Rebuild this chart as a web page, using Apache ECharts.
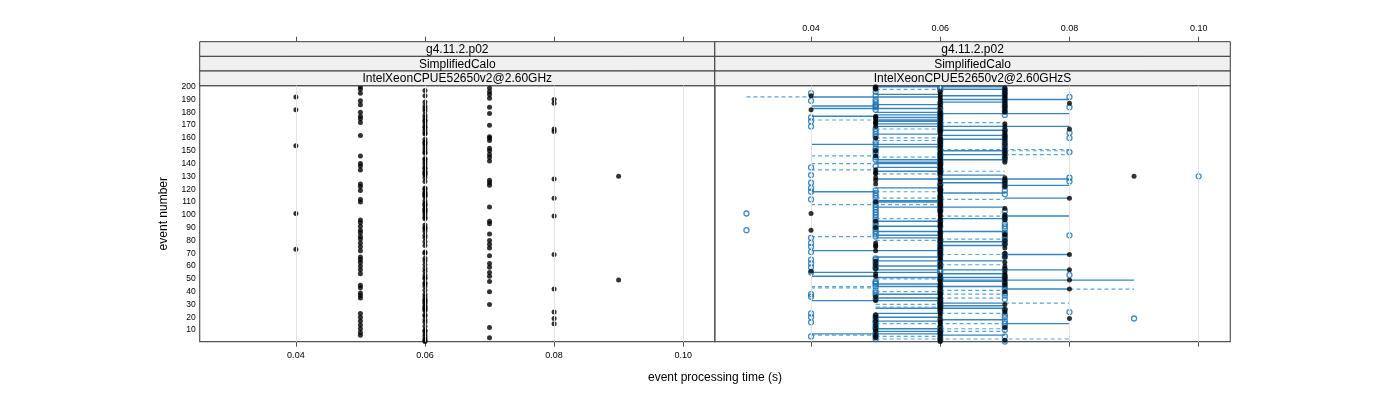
<!DOCTYPE html>
<html><head><meta charset="utf-8">
<script src="https://cdn.jsdelivr.net/npm/echarts@6/dist/echarts.min.js"></script>
<style>html,body{margin:0;padding:0;background:#fff}#c{width:1400px;height:400px}</style>
</head><body><div id="c"></div>
<script>
// ---------- data ----------
const stripLevels = ['g4.11.2.p02', 'SimplifiedCalo'];
const panelNames = ['IntelXeonCPUE52650v2@2.60GHz', 'IntelXeonCPUE52650v2@2.60GHzS'];
const xTicks = [0.04, 0.06, 0.08, 0.10];
const yTicks = [10, 20, 30, 40, 50, 60, 70, 80, 90, 100, 110, 120, 130, 140, 150, 160, 170, 180, 190, 200];
const xTitle = 'event processing time (s)';
const yTitle = 'event number';

// left panel: processing time per event (events 1..200)
const leftTime = [
  .06,.06,.06,.07,.06,.05,.06,.05,.06,.06,
  .05,.07,.06,.05,.08,.06,.05,.06,.08,.05,
  .06,.06,.05,.08,.06,.06,.06,.06,.06,.07,
  .06,.06,.06,.06,.05,.06,.05,.06,.05,.07,
  .06,.08,.05,.06,.05,.06,.06,.07,.09,.06,
  .06,.07,.06,.05,.07,.06,.05,.06,.07,.05,
  .06,.07,.05,.06,.05,.06,.05,.07,.08,.06,
  .06,.05,.04,.07,.05,.06,.07,.05,.06,.07,
  .05,.06,.05,.06,.07,.05,.06,.05,.06,.06,
  .05,.06,.07,.05,.07,.05,.06,.06,.08,.06,
  .04,.06,.06,.06,.06,.07,.06,.06,.06,.05,
  .06,.05,.08,.06,.06,.06,.06,.06,.05,.06,
  .06,.05,.07,.05,.07,.06,.07,.08,.06,.09,
  .06,.06,.06,.06,.05,.06,.06,.05,.06,.05,
  .06,.07,.06,.06,.07,.05,.07,.06,.06,.07,
  .06,.07,.06,.04,.06,.06,.06,.07,.06,.07,
  .07,.05,.06,.06,.08,.06,.08,.06,.06,.07,
  .06,.05,.06,.06,.05,.06,.05,.06,.07,.05,
  .06,.04,.06,.07,.06,.05,.08,.06,.05,.08,
  .07,.04,.06,.07,.05,.07,.06,.05,.07,.05
];

// right panel: filled black points (events 1..200)
const rightBlack = [
  .06,.07,.06,.05,.06,.05,.06,.06,.05,.06,
  .05,.07,.06,.05,.06,.06,.05,.06,.08,.05,
  .06,.05,.06,.07,.06,.07,.06,.06,.06,.07,
  .06,.06,.05,.06,.06,.05,.06,.06,.06,.07,
  .06,.08,.06,.06,.07,.06,.07,.06,.08,.06,
  .07,.05,.06,.05,.07,.04,.08,.05,.06,.07,
  .05,.06,.07,.05,.06,.06,.07,.06,.08,.06,
  .06,.05,.06,.07,.06,.05,.06,.05,.06,.07,
  .06,.06,.06,.06,.07,.06,.06,.04,.06,.05,
  .06,.06,.06,.06,.05,.06,.06,.07,.06,.06,
  .04,.06,.06,.06,.07,.06,.06,.06,.06,.05,
  .06,.06,.08,.06,.06,.06,.06,.06,.06,.06,
  .06,.07,.06,.05,.07,.06,.07,.06,.05,.09,
  .06,.05,.06,.06,.05,.06,.06,.06,.06,.06,
  .07,.06,.06,.07,.06,.05,.06,.07,.06,.05,
  .06,.07,.06,.06,.07,.06,.06,.07,.06,.05,
  .06,.07,.06,.07,.06,.06,.08,.06,.05,.06,
  .05,.06,.05,.06,.05,.06,.05,.06,.06,.07,
  .06,.04,.07,.06,.07,.06,.08,.06,.07,.06,
  .07,.06,.04,.06,.07,.06,.07,.05,.05,.05
];

// right panel: further black points of the overlaid run [event, time (s)]
const rightBlackExtra = [
  [199,.07],[193,.07],[187,.07],[181,.07],[171,.07],[169,.07],[166,.07],[160,.07],
  [150,.07],[146,.07],[129,.07],[100,.07],[96,.07],[84,.07],[77,.07],[70,.07],
  [58,.07],[53,.07],[49,.07],[176,.05],[172,.05],[133,.05],[127,.05],[75,.05]
];

// right panel: open blue circles (events 1..200)
const rightCircle = [
  .07,.06,.05,.06,.04,.05,.06,.05,.06,.06,
  .05,.06,.07,.05,.07,.04,.05,.06,.09,.04,
  .05,.07,.04,.08,.06,.07,.06,.06,.06,.06,
  .06,.06,.06,.05,.06,.04,.07,.04,.06,.06,
  .05,.07,.06,.05,.06,.05,.07,.05,.06,.06,
  .06,.07,.08,.06,.04,.06,.06,.05,.04,.06,
  .06,.04,.05,.06,.04,.05,.07,.06,.07,.06,
  .04,.06,.06,.06,.04,.06,.07,.04,.06,.06,
  .07,.04,.05,.08,.05,.06,.05,.03,.07,.05,
  .06,.05,.07,.05,.06,.05,.07,.05,.07,.05,
  .03,.05,.06,.05,.06,.05,.06,.05,.06,.05,
  .06,.04,.06,.06,.05,.07,.05,.04,.06,.06,
  .04,.07,.06,.06,.04,.08,.07,.06,.08,.10,
  .04,.06,.06,.06,.06,.06,.04,.05,.06,.06,
  .06,.06,.05,.06,.07,.06,.06,.06,.08,.07,
  .06,.05,.07,.06,.05,.06,.07,.06,.06,.08,
  .05,.07,.05,.08,.06,.07,.06,.06,.04,.06,
  .06,.06,.04,.06,.06,.04,.06,.06,.06,.06,
  .07,.05,.06,.08,.05,.07,.06,.05,.04,.05,
  .07,.08,.05,.07,.04,.05,.06,.07,.06,.06
];

// right panel: further open circles of the overlaid run [event, time (s)]
const rightCircleExtra = [
  [199,.05],[186,.05],[184,.05],[167,.05],[165,.05],[157,.05],[150,.05],[148,.05],
  [145,.05],[119,.05],[113,.05],[89,.05],[65,.05],[61,.05],[59,.05],[47,.05],
  [39,.05],[37,.05],[19,.05],[16,.05],[12,.05],[5,.05],
  [196,.07],[189,.07],[184,.07],[178,.07],[160,.07],[155,.07],[148,.07],[143,.07],
  [124,.07],[119,.07],[103,.07],[91,.07],[86,.07],[83,.07],[79,.07],[57,.07],
  [50,.07],[44,.07],[39,.07],[34,.07],[20,.07],[17,.07],[10,.07],[5,.07]
];

// right panel: solid horizontal segments [event, from (s), to (s)]
const solidSegments = [
  [200,.05,.07],[198,.06,.07],[194,.05,.06],[193,.06,.07],[192,.04,.06],[190,.06,.08],
  [188,.06,.07],[186,.05,.06],[185,.04,.05],[183,.04,.06],[180,.05,.06],[179,.06,.08],
  [178,.05,.06],[177,.04,.05],[176,.05,.06],[174,.05,.06],[173,.05,.06],[171,.05,.06],
  [169,.05,.08],[166,.06,.07],[163,.05,.06],[162,.06,.07],[159,.06,.07],[155,.04,.06],
  [153,.05,.06],[150,.06,.07],[147,.06,.07],[143,.05,.07],[141,.05,.06],[140,.05,.06],
  [137,.05,.06],[134,.05,.06],[131,.06,.07],[128,.05,.08],[125,.06,.07],[123,.07,.08],
  [121,.05,.06],[118,.04,.05],[117,.06,.07],[113,.07,.08],[111,.05,.06],[110,.05,.06],
  [106,.05,.07],[99,.07,.08],[97,.06,.07],[95,.05,.06],[91,.05,.06],[87,.05,.07],
  [84,.05,.06],[82,.05,.06],[79,.06,.07],[76,.06,.07],[72,.04,.06],[69,.07,.08],
  [67,.05,.06],[64,.05,.07],[60,.05,.06],[57,.05,.08],[55,.04,.06],[54,.06,.07],
  [52,.04,.05],[51,.05,.07],[49,.06,.09],[48,.06,.07],[46,.05,.06],[44,.05,.07],
  [42,.07,.08],[38,.05,.06],[35,.05,.06],[33,.04,.06],[31,.06,.07],[29,.06,.07],
  [27,.05,.07],[23,.05,.06],[20,.05,.06],[18,.06,.07],[17,.05,.06],[15,.07,.08],
  [11,.05,.06],[9,.05,.06],[7,.04,.06],[6,.06,.07]
];

// right panel: dashed horizontal segments [event, from (s), to (s)]
const dashedSegments = [
  [198,.05,.06],[192,.03,.04],[174,.04,.05],[172,.06,.07],[167,.05,.06],[160,.05,.06],
  [158,.05,.06],[151,.06,.08],[150,.07,.08],[147,.07,.08],[146,.04,.05],[145,.05,.06],
  [140,.04,.05],[135,.04,.05],[134,.06,.07],[132,.05,.06],[118,.05,.06],[113,.05,.06],
  [112,.06,.07],[108,.04,.06],[99,.06,.07],[97,.05,.06],[83,.04,.05],[81,.06,.07],
  [80,.05,.06],[69,.06,.07],[61,.06,.07],[50,.05,.06],[44,.04,.05],[43,.04,.05],
  [42,.08,.09],[41,.06,.07],[40,.05,.06],[38,.06,.07],[35,.06,.07],[31,.07,.08],
  [30,.05,.06],[28,.05,.06],[23,.06,.07],[15,.05,.07],[11,.06,.07],[9,.06,.07],
  [6,.04,.05],[5,.05,.06],[3,.05,.08]
];

// event numbers (index of each per-event value above)
const eventNumbers = leftTime.map((_, i) => i + 1);

// ---------- chart ----------
const FONT = "'Liberation Sans', Arial, Helvetica, sans-serif";
const X_MIN = 0.0251, X_MAX = 0.1049, Y_MIN = 0.9, Y_MAX = 200.8;
const AXIS_COLOR = '#555555';
const PANEL_TOP = 85.7, PANEL_H = 256;
const PANELS = [{left: 199.7, width: 515.1}, {left: 714.8, width: 515.5}];
const STRIP_H = 14.67;
const CIRCLE_STYLE = {color: 'rgba(0,0,0,0)', borderColor: '#1670b2', borderWidth: 1.3};

const pairs = arr => arr.map((t, i) => [t, eventNumbers[i]]);
const swap = arr => arr.map(d => [d[1], d[0]]);
const fmt = v => v.toFixed(2);

function xAxisDef(grid, pos, withLabels) {
  return {
    type: 'value', gridIndex: grid, position: pos, min: X_MIN, max: X_MAX,
    offset: pos === 'top' ? 3 * STRIP_H : 0,
    axisLine: {show: false},
    axisTick: {show: true, inside: false, length: 5, customValues: xTicks,
               lineStyle: {color: AXIS_COLOR, width: 1}},
    axisLabel: {show: withLabels, customValues: xTicks, formatter: fmt, margin: 9,
                fontSize: 9, color: '#000', fontFamily: FONT},
    splitLine: {show: false}
  };
}
function yAxisDef(grid, withLabels) {
  return {
    type: 'value', gridIndex: grid, min: Y_MIN, max: Y_MAX,
    axisLine: {show: false}, axisTick: {show: false},
    axisLabel: {show: withLabels, customValues: yTicks, margin: 4, fontSize: 8.5,
                color: '#000', fontFamily: FONT},
    splitLine: {show: false}
  };
}
function gridLineSeries(xi, yi) {
  return {
    type: 'scatter', xAxisIndex: xi, yAxisIndex: yi, data: [], silent: true, z: 0,
    markLine: {silent: true, symbol: ['none', 'none'], animation: false,
      label: {show: false}, lineStyle: {color: '#e4e4e4', width: 1, type: 'solid'},
      data: xTicks.map(v => ({xAxis: v}))}
  };
}
function segmentSeries(segs, style) {
  return {
    type: 'custom', xAxisIndex: 2, yAxisIndex: 1, data: segs, silent: true, z: 4,
    encode: {x: [1, 2], y: 0},
    renderItem: function (params, api) {
      const ev = api.value(0);
      const p1 = api.coord([api.value(1), ev]);
      const p2 = api.coord([api.value(2), ev]);
      return {type: 'line', shape: {x1: p1[0], y1: p1[1], x2: p2[0], y2: p2[1]}, style: style};
    }
  };
}
function dotSeries(xi, yi, data, z) {
  return {type: 'scatter', xAxisIndex: xi, yAxisIndex: yi, data: data, symbol: 'circle',
          symbolSize: 5, itemStyle: {color: '#000'}, z: z, silent: true};
}
function ringSeries(data) {
  return {type: 'scatter', xAxisIndex: 2, yAxisIndex: 1, data: data, symbol: 'circle',
          symbolSize: 5, itemStyle: CIRCLE_STYLE, z: 3, silent: true};
}

const graphics = [];
PANELS.forEach((p, k) => {
  const labels = [stripLevels[0], stripLevels[1], panelNames[k]];
  labels.forEach((txt, r) => {
    const y = PANEL_TOP - 3 * STRIP_H + r * STRIP_H;
    graphics.push({type: 'rect', silent: true, z: 5,
      shape: {x: p.left, y: y, width: p.width, height: STRIP_H},
      style: {fill: '#f0f0f0', stroke: '#3a3a3a', lineWidth: 1}});
    graphics.push({type: 'text', silent: true, z: 6,
      x: p.left + p.width / 2, y: y + STRIP_H / 2 + 0.5,
      style: {text: txt, fontSize: 12, fontFamily: FONT, fill: '#000',
              align: 'center', verticalAlign: 'middle'}});
  });
});
graphics.push({type: 'text', silent: true, x: 715, y: 378,
  style: {text: xTitle, fontSize: 12, fontFamily: FONT, fill: '#000', align: 'center', verticalAlign: 'middle'}});
graphics.push({type: 'text', silent: true, x: 163.5, y: 213.7, rotation: Math.PI / 2,
  style: {text: yTitle, fontSize: 12, fontFamily: FONT, fill: '#000', align: 'center', verticalAlign: 'middle'}});

const option = {
  animation: false,
  backgroundColor: '#ffffff',
  grid: PANELS.map(p => ({left: p.left, top: PANEL_TOP, width: p.width, height: PANEL_H,
    show: true, borderColor: AXIS_COLOR, borderWidth: 1.2, backgroundColor: 'transparent', containLabel: false})),
  xAxis: [xAxisDef(0, 'bottom', true), xAxisDef(0, 'top', false),
          xAxisDef(1, 'bottom', false), xAxisDef(1, 'top', true)],
  yAxis: [yAxisDef(0, true), yAxisDef(1, false)],
  graphic: graphics,
  series: [
    gridLineSeries(0, 0),
    gridLineSeries(2, 1),
    dotSeries(0, 0, pairs(leftTime), 3),
    ringSeries(pairs(rightCircle)),
    ringSeries(swap(rightCircleExtra)),
    segmentSeries(solidSegments, {stroke: '#1f78b8', lineWidth: 1.4, opacity: 0.9}),
    segmentSeries(dashedSegments, {stroke: '#3f94d2', lineWidth: 1.2, lineDash: [4, 3], opacity: 0.85}),
    dotSeries(2, 1, pairs(rightBlack), 6),
    dotSeries(2, 1, swap(rightBlackExtra), 6)
  ]
};

const chart = echarts.init(document.getElementById('c'), null, {renderer: 'canvas'});
chart.setOption(option);
</script>
</body></html>
